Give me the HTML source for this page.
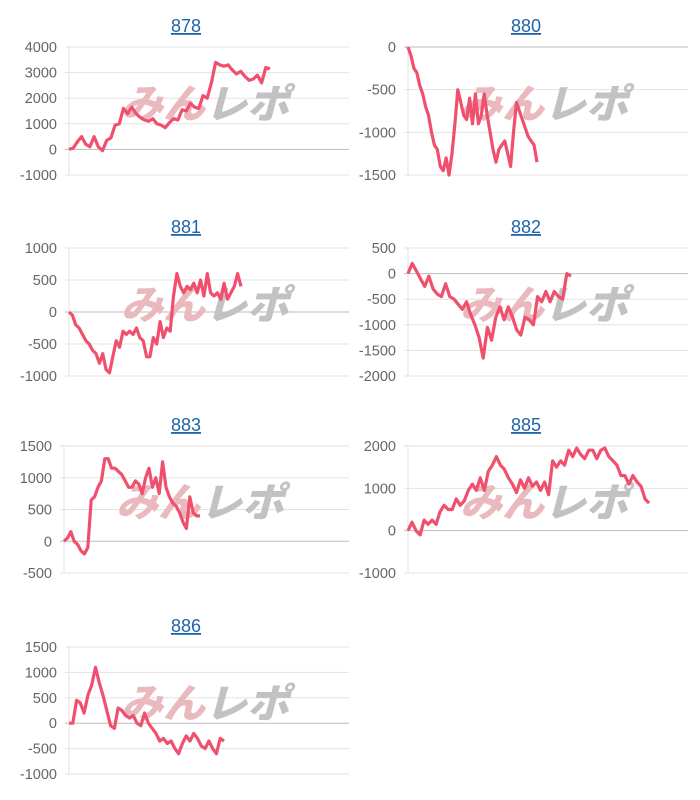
<!DOCTYPE html>
<html><head><meta charset="utf-8"><style>
html,body{margin:0;padding:0;background:#fff;width:700px;height:800px;overflow:hidden}
svg{display:block}
.t{font-family:"Liberation Sans",sans-serif;font-size:18px;fill:#1e64aa;text-decoration:underline}
.tk{font-family:"Liberation Sans",sans-serif;font-size:14.5px;fill:#666}
.wm{font-family:"Liberation Sans","Noto Sans CJK JP",sans-serif;font-size:40px;font-weight:900;font-style:italic}
</style></head><body>
<svg id="s" width="700" height="800"></svg>
<script>
const titles=["878","880","881","882","883","885","886"];
const s878=[0,50,300,500,200,100,500,100,-50,350,450,950,1000,1600,1400,1650,1400,1250,1150,1100,1200,1000,950,850,1050,1200,1150,1550,1500,1800,1650,1600,2100,2000,2600,3400,3300,3250,3300,3100,2950,3050,2850,2700,2750,2900,2600,3200,3150];
const s880=[0,-100,-250,-300,-450,-550,-700,-800,-1000,-1150,-1200,-1400,-1450,-1300,-1500,-1250,-900,-500,-650,-800,-850,-600,-900,-550,-900,-800,-550,-800,-1000,-1200,-1350,-1200,-1150,-1100,-1250,-1400,-1000,-650,-750,-850,-950,-1050,-1100,-1150,-1350];
const s881=[0,-50,-200,-250,-350,-450,-500,-600,-650,-800,-650,-900,-950,-700,-450,-550,-300,-350,-300,-350,-250,-400,-450,-700,-700,-400,-500,-150,-400,-250,-300,250,600,400,300,400,350,450,300,500,250,600,300,250,300,200,450,200,300,400,600,400];
const s882=[0,200,50,-100,-250,-50,-300,-400,-450,-200,-450,-500,-600,-700,-550,-800,-1000,-1250,-1650,-1050,-1300,-850,-650,-900,-650,-850,-1100,-1200,-850,-900,-1000,-450,-550,-350,-550,-350,-450,-500,0,-50];
const s883=[0,50,150,0,-50,-150,-200,-100,650,700,850,950,1300,1300,1150,1150,1100,1050,950,850,850,950,900,750,1000,1150,850,1000,750,1250,850,700,600,550,450,300,200,700,450,400,400];
const s885=[0,200,0,-100,250,150,250,150,450,600,500,500,750,600,700,950,1100,950,1250,950,1400,1550,1750,1550,1450,1250,1100,900,1200,1000,1250,1050,1150,950,1150,850,1650,1500,1650,1550,1900,1750,1950,1800,1700,1900,1900,1700,1900,1950,1750,1650,1550,1300,1300,1100,1300,1150,1050,750,650];
const s886=[0,0,450,400,200,550,750,1100,800,550,250,-50,-100,300,250,150,100,150,0,-50,200,0,-100,-200,-350,-300,-400,-350,-500,-600,-400,-250,-350,-200,-300,-450,-500,-350,-500,-600,-300,-350];
const series=[s878,s880,s881,s882,s883,s885,s886];
const tk878=[4000,3000,2000,1000,0,-1000];
const tk880=[0,-500,-1000,-1500];
const tk881=[1000,500,0,-500,-1000];
const tk882=[500,0,-500,-1000,-1500,-2000];
const tk883=[1500,1000,500,0,-500];
const tk885=[2000,1000,0,-1000];
const tk886=[1500,1000,500,0,-500,-1000];
const ticks=[tk878,tk880,tk881,tk882,tk883,tk885,tk886];
const L=[
 {x0:69,x1:349,top:47,bot:175,end:270,cx:186},
 {x0:408,x1:688,top:47,bot:175,end:537,cx:526},
 {x0:69,x1:349,top:248,bot:376,end:241,cx:186},
 {x0:408,x1:688,top:248,bot:376,end:571,cx:526},
 {x0:64,x1:349,top:446,bot:573,end:200,cx:186},
 {x0:408,x1:688,top:446,bot:573,end:649,cx:526},
 {x0:69,x1:349,top:647,bot:774,end:224,cx:186}
];
const svg=document.getElementById('s');
const NS='http://www.w3.org/2000/svg';
function mk(t,a,p){const e=document.createElementNS(NS,t);for(const k in a)e.setAttribute(k,a[k]);(p||svg).appendChild(e);return e;}
series.forEach((d,ci)=>{
  const l=L[ci],tk=ticks[ci];
  const g=mk('g',{});
  
  
  const vmax=tk[0],vmin=tk[tk.length-1];
  const y=v=>l.top+(vmax-v)/(vmax-vmin)*(l.bot-l.top);
  const xMax=(d.length-1)*(l.x1-l.x0)/(l.end-l.x0);
  const x=i=>l.x0+i/xMax*(l.x1-l.x0);
  const t=mk('text',{x:l.cx,y:l.top-15,'text-anchor':'middle',class:'t'},g);
  t.textContent=titles[ci];
  
  
  tk.forEach(v=>{
    const ln=mk('line',{x1:l.x0-4,x2:l.x1,y1:y(v),y2:y(v),stroke:v===0?'#bdbdbd':'#e3e3e3','stroke-width':1},g);
    
    
    const tx=mk('text',{x:l.x0-12,y:y(v)+5,'text-anchor':'end',class:'tk'},g);
    tx.textContent=v;
    
    
  });
  const ax=mk('line',{x1:l.x0,x2:l.x0,y1:l.top,y2:l.bot,stroke:'#e0e0e0'},g);
  
  
  const wx=l.x0+52,wy=(l.top+l.bot)/2+7;
  const wm=mk('text',{x:wx,y:wy,class:'wm',textLength:168,lengthAdjust:'spacingAndGlyphs'},g);
  
  
  const a=mk('tspan',{fill:'#e9b9bd'},wm);a.textContent='みん';
  const b=mk('tspan',{fill:'#c2c2c2'},wm);b.textContent='レポ';
  const p=mk('polyline',{points:d.map((v,i)=>x(i).toFixed(1)+','+y(v).toFixed(1)).join(' '),fill:'none',stroke:'#f0506e','stroke-width':3.2,'stroke-linejoin':'round'},g);
  
  
});
</script>
</body></html>
